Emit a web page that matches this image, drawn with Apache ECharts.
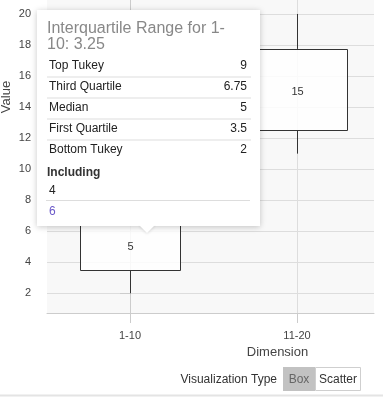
<!DOCTYPE html>
<html>
<head>
<meta charset="utf-8">
<script src="https://cdn.jsdelivr.net/npm/echarts@6/dist/echarts.min.js"></script>
<style>
html,body{margin:0;padding:0;background:#fff;}
#chart{width:383px;height:401px;}
</style>
</head>
<body>
<div id="chart"></div>
<script>
// ---- data ----
const categories = ['1-10', '11-20'];
const bottomTukey = [2, 11];
const firstQuartile = [3.5, 12.5];
const medianValues = [5, 15];
const thirdQuartile = [6.75, 17.75];
const topTukey = [9, 20];
const includingValues = [4, 6];
const yTickValues = [2, 4, 6, 8, 10, 12, 14, 16, 18, 20];
const xTickValues = [0, 1];

const FONT = '"Liberation Sans", Arial, sans-serif';

const boxData = categories.map((c, i) => [i, bottomTukey[i], firstQuartile[i], medianValues[i], thirdQuartile[i], topTukey[i]]);

const chart = echarts.init(document.getElementById('chart'), null, {renderer: 'canvas'});

// tooltip content (for first category)
const ti = 0;
const iqr = thirdQuartile[ti] - firstQuartile[ti];
const titleText = 'Interquartile Range for ' + categories[ti] + ': ' + iqr;
const titleLines = titleText.replace('for 1-', 'for 1-\n');
const rows = [
  ['Top Tukey', topTukey[ti]],
  ['Third Quartile', thirdQuartile[ti]],
  ['Median', medianValues[ti]],
  ['First Quartile', firstQuartile[ti]],
  ['Bottom Tukey', bottomTukey[ti]]
];

const TT = {x: 37, y: 10, w: 223, h: 216};
const graphics = [];
graphics.push({
  type: 'rect', z: 100,
  shape: {x: TT.x, y: TT.y, width: TT.w, height: TT.h},
  style: {fill: '#fff', shadowBlur: 6, shadowColor: 'rgba(0,0,0,0.22)', shadowOffsetX: 0, shadowOffsetY: 1}
});
graphics.push({
  type: 'polygon', z: 101,
  shape: {points: [[139, TT.y + TT.h - 1], [155, TT.y + TT.h - 1], [147, TT.y + TT.h + 7]]},
  style: {fill: '#fff', shadowBlur: 3, shadowColor: 'rgba(0,0,0,0.12)', shadowOffsetY: 1}
});
graphics.push({
  type: 'rect', z: 102,
  shape: {x: TT.x, y: TT.y + TT.h - 8, width: TT.w, height: 7},
  style: {fill: '#fff'}
});
graphics.push({
  type: 'text', z: 103, x: 47, y: 21,
  style: {text: titleLines, font: '16px ' + FONT, fill: '#888', lineHeight: 15.5}
});
rows.forEach((r, k) => {
  const cy = 66 + k * 21;
  graphics.push({type: 'text', z: 103, x: 49, y: cy,
    style: {text: r[0], font: '12px ' + FONT, fill: '#222', verticalAlign: 'middle'}});
  graphics.push({type: 'text', z: 103, x: 247, y: cy,
    style: {text: String(r[1]), font: '12px ' + FONT, fill: '#222', align: 'right', verticalAlign: 'middle'}});
  if (k < rows.length - 1) {
    graphics.push({type: 'line', z: 103,
      shape: {x1: 47, y1: cy + 11, x2: 251, y2: cy + 11},
      style: {stroke: '#ddd', lineWidth: 1}});
  }
});
graphics.push({type: 'text', z: 103, x: 47, y: 173,
  style: {text: 'Including', font: 'bold 12px ' + FONT, fill: '#333', verticalAlign: 'middle'}});
graphics.push({type: 'text', z: 103, x: 49, y: 190.5,
  style: {text: String(includingValues[0]), font: '12px ' + FONT, fill: '#222', verticalAlign: 'middle'}});
graphics.push({type: 'line', z: 103,
  shape: {x1: 46, y1: 200.5, x2: 250, y2: 200.5},
  style: {stroke: '#ddd', lineWidth: 1}});
graphics.push({type: 'text', z: 103, x: 49, y: 211.5,
  style: {text: String(includingValues[1]), font: '12px ' + FONT, fill: '#6a58c8', verticalAlign: 'middle'}});

graphics.push({type: 'line', z: 10, shape: {x1: 0, y1: 395.5, x2: 383, y2: 395.5},
  style: {stroke: '#e4e4e4', lineWidth: 2}});
graphics.push({type: 'text', z: 10, x: 277, y: 379.5,
  style: {text: 'Visualization Type', font: '12px ' + FONT, fill: '#333', align: 'right', verticalAlign: 'middle'}});
graphics.push({type: 'rect', z: 10, shape: {x: 283, y: 367, width: 32, height: 24},
  style: {fill: '#c2c2c2'}});
graphics.push({type: 'text', z: 11, x: 299, y: 379.5,
  style: {text: 'Box', font: '12px ' + FONT, fill: '#666', align: 'center', verticalAlign: 'middle'}});
graphics.push({type: 'rect', z: 10, shape: {x: 315.5, y: 367.5, width: 45, height: 23},
  style: {fill: '#fff', stroke: '#cfcfcf', lineWidth: 1}});
graphics.push({type: 'text', z: 11, x: 338, y: 379.5,
  style: {text: 'Scatter', font: '12px ' + FONT, fill: '#333', align: 'center', verticalAlign: 'middle'}});

const option = {
  animation: false,
  backgroundColor: '#fff',
  textStyle: {fontFamily: FONT},
  grid: {left: 47, right: 9, top: -119, bottom: 88, show: true, backgroundColor: '#f8f8f8', borderWidth: 0,
    containLabel: false, outerBoundsMode: 'none'},
  xAxis: {
    type: 'value', min: -0.497, max: 1.461,
    name: 'Dimension', nameLocation: 'middle', nameGap: 33, nameMoveOverlap: false,
    nameTextStyle: {fontSize: 13, color: '#444', padding: [0, 0, 0, 134]},
    axisLine: {show: true, lineStyle: {color: '#ccc'}},
    axisTick: {show: true, length: 10, customValues: xTickValues, lineStyle: {color: '#ccc'}},
    axisLabel: {customValues: xTickValues, margin: 17, fontSize: 11, color: '#444',
      formatter: v => categories[Math.round(v)]},
    splitLine: {show: true, lineStyle: {color: '#ddd'}}
  },
  yAxis: {
    type: 'value', min: 0.73, max: 28.57,
    name: 'Value', nameLocation: 'middle', nameGap: 34, nameMoveOverlap: false,
    nameTextStyle: {fontSize: 13, color: '#444'},
    axisLine: {show: true, lineStyle: {color: '#ccc'}},
    axisTick: {show: true, length: 10, customValues: yTickValues, lineStyle: {color: '#ccc'}},
    axisLabel: {customValues: yTickValues, margin: 16, fontSize: 11, color: '#444'},
    splitLine: {show: true, lineStyle: {color: '#ddd'}}
  },
  series: [{
    type: 'custom',
    data: boxData,
    encode: {x: 0, y: [1, 2, 3, 4, 5]},
    renderItem: function (params, api) {
      const x = api.value(0);
      const lo = api.coord([x, api.value(1)]);
      const q1 = api.coord([x, api.value(2)]);
      const med = api.coord([x, api.value(3)]);
      const q3 = api.coord([x, api.value(4)]);
      const hi = api.coord([x, api.value(5)]);
      const half = api.size([0.6, 0])[0] / 2;
      const cx = Math.round(lo[0]) + 0.5;
      return {
        type: 'group',
        children: [
          {type: 'line', shape: {x1: cx, y1: lo[1], x2: cx, y2: q1[1]}, style: {stroke: '#333', lineWidth: 1}},
          {type: 'line', shape: {x1: cx, y1: q3[1], x2: cx, y2: hi[1]}, style: {stroke: '#333', lineWidth: 1}},
          {type: 'rect', shape: {x: Math.round(cx - half) + 0.5, y: Math.round(q3[1]) + 0.5, width: Math.round(half * 2), height: Math.round(q1[1] - q3[1])},
            style: {fill: 'rgba(255,255,255,0.85)', stroke: '#333', lineWidth: 1}},
          {type: 'text', x: cx, y: med[1],
            style: {text: String(api.value(3)), font: '11px ' + FONT, fill: '#333', align: 'center', verticalAlign: 'middle'}}
        ]
      };
    }
  }],
  graphic: {elements: graphics}
};
chart.setOption(option);
</script>
</body>
</html>
